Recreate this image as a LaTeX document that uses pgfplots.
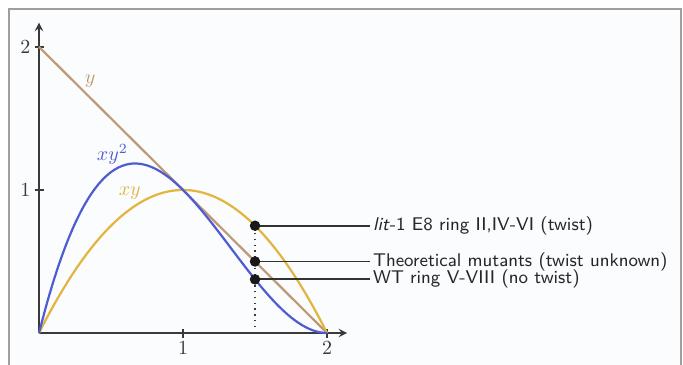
\documentclass[border=0pt]{standalone}
\usepackage{pgfplots}
\usepackage{pgfplotstable}
\pgfplotsset{compat=1.18}
\definecolor{cy}{HTML}{BE9A74}
\definecolor{cxy}{HTML}{E2B53E}
\definecolor{cxyy}{HTML}{4F5BD0}
\definecolor{axc}{HTML}{3A3A3A}
\definecolor{bg}{HTML}{FBFCFE}
\pgfplotstableread{
x y xy xyy
0 2 0 0
0.05 1.95 0.0975 0.190125
0.1 1.9 0.19 0.361
0.15 1.85 0.2775 0.513375
0.2 1.8 0.36 0.648
0.25 1.75 0.4375 0.765625
0.3 1.7 0.51 0.867
0.35 1.65 0.5775 0.952875
0.4 1.6 0.64 1.024
0.45 1.55 0.6975 1.081125
0.5 1.5 0.75 1.125
0.55 1.45 0.7975 1.156375
0.6 1.4 0.84 1.176
0.65 1.35 0.8775 1.184625
0.7 1.3 0.91 1.183
0.75 1.25 0.9375 1.171875
0.8 1.2 0.96 1.152
0.85 1.15 0.9775 1.124125
0.9 1.1 0.99 1.089
0.95 1.05 0.9975 1.047375
1.0 1 1 1
1.05 0.95 0.9975 0.947625
1.1 0.9 0.99 0.891
1.15 0.85 0.9775 0.830875
1.2 0.8 0.96 0.768
1.25 0.75 0.9375 0.703125
1.3 0.7 0.91 0.637
1.35 0.65 0.8775 0.570375
1.4 0.6 0.84 0.504
1.45 0.55 0.7975 0.438625
1.5 0.5 0.75 0.375
1.55 0.45 0.6975 0.313875
1.6 0.4 0.64 0.256
1.65 0.35 0.5775 0.202125
1.7 0.3 0.51 0.153
1.75 0.25 0.4375 0.109375
1.8 0.2 0.36 0.072
1.85 0.15 0.2775 0.041625
1.9 0.1 0.19 0.019
1.95 0.05 0.0975 0.004875
2.0 0 0 0
}\curves
\pgfplotstableread{
x v
1.5 0.75
1.5 0.5
1.5 0.375
}\pts
\begin{document}
\begin{tikzpicture}
\path[use as bounding box] (-19.5pt,-15.5pt) rectangle (322pt,166.5pt);
\fill[bg] (-15pt,-16pt) rectangle (321pt,162pt);
\draw[gray!75,line width=1pt] (-15pt,-16pt) -- (-15pt,162pt) -- (321pt,162pt) -- (321pt,-16pt);
\begin{axis}[
  scale only axis, anchor=origin,
  width=154.1pt, height=155.2pt,
  xmin=0, xmax=2.14, ymin=0, ymax=2.17,
  axis lines=left,
  axis line style={axc, line width=0.9pt},
  xtick={1,2}, ytick={1,2},
  tick style={axc, line width=0.7pt},
  tick align=center,
  major tick length=4.5pt,
  tick label style={font=\fontsize{10}{11}\selectfont, text=axc},
  xticklabel style={yshift=1.5pt},
  yticklabel style={xshift=1.5pt},
  clip=false,
]
\addplot[cy, line width=1.1pt] table[x=x,y=y] {\curves};
\addplot[cxy, line width=1.1pt, smooth] table[x=x,y=xy] {\curves};
\addplot[cxyy, line width=1.1pt, smooth] table[x=x,y=xyy] {\curves};
\draw[axc, line width=0.7pt, dash pattern=on 0.7pt off 2.2pt] (axis cs:1.5,0) -- (axis cs:1.5,0.75);
\draw[black!80, line width=0.9pt] (axis cs:1.5,0.75) -- (axis cs:2.30,0.75)
  node[right, inner sep=1pt, text=black!85, font=\sffamily\fontsize{9.2}{10}\selectfont] {\textit{lit}-1 E8 ring II,IV-VI (twist)};
\draw[black!80, line width=0.9pt] (axis cs:1.5,0.5) -- (axis cs:2.30,0.5)
  node[right, inner sep=1pt, text=black!85, font=\sffamily\fontsize{9.2}{10}\selectfont] {Theoretical mutants (twist unknown)};
\draw[black!80, line width=0.9pt] (axis cs:1.5,0.375) -- (axis cs:2.30,0.375)
  node[right, inner sep=1pt, text=black!85, font=\sffamily\fontsize{9.2}{10}\selectfont] {WT ring V-VIII (no twist)};
\addplot[only marks, mark=*, mark size=2.4pt, black!90] table[x=x,y=v] {\pts};
\node[text=cy, font=\fontsize{10}{11}\selectfont] at (axis cs:0.355,1.76) {$y$};
\node[text=cxyy, font=\fontsize{10}{11}\selectfont] at (axis cs:0.51,1.25) {$xy^2$};
\node[text=cxy, font=\fontsize{10}{11}\selectfont] at (axis cs:0.63,0.98) {$xy$};
\end{axis}
\end{tikzpicture}
\end{document}
